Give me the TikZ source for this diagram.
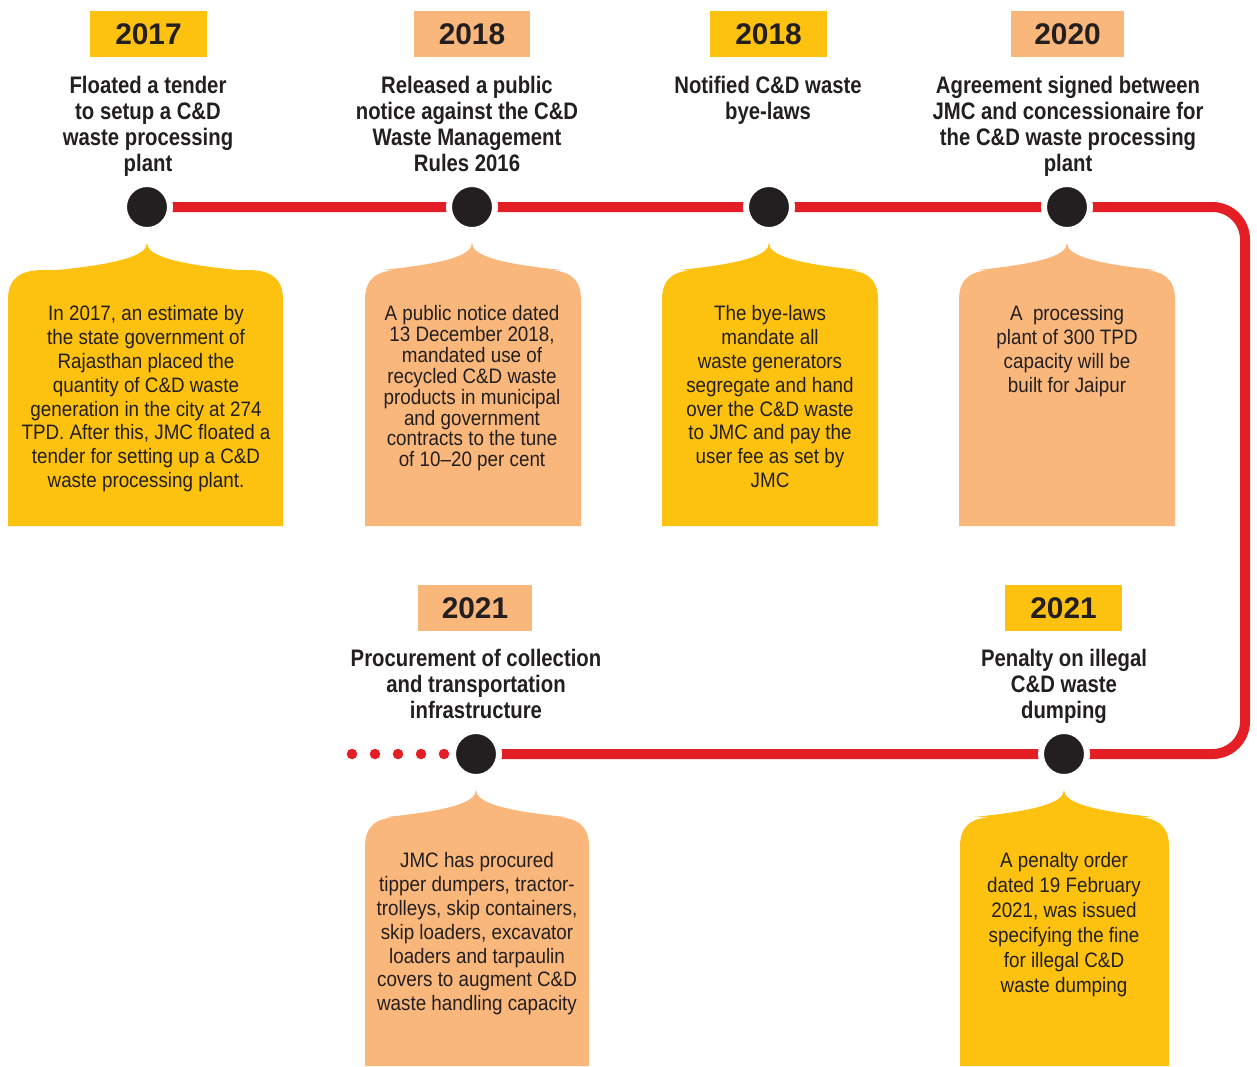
\documentclass[tikz,border=0pt]{standalone}
\usepackage{fontspec}
\newfontfamily\bodyfont[FakeStretch=0.9]{Liberation Sans}
\newfontfamily\titlefont[FakeStretch=0.85]{Liberation Sans Bold}
\newfontfamily\yearfont{Liberation Sans Bold}
\definecolor{cyellow}{HTML}{FDC210}
\definecolor{cpeach}{HTML}{F9B77B}
\definecolor{cred}{HTML}{E31E24}
\definecolor{cdark}{HTML}{231F20}
\tikzset{
  yearbox/.style={fill=#1, minimum width=2.34cm, minimum height=0.92cm, inner sep=0pt,
     font=\yearfont\fontsize{17}{17}\selectfont, text=cdark},
  titletext/.style={anchor=north, inner sep=0pt, align=center, text=cdark,
     font=\titlefont\fontsize{13.6}{14.7}\selectfont},
  bodytext/.style={anchor=north, inner sep=0pt, align=center, text=cdark,
     font=\bodyfont\fontsize{11.9}{13.6}\selectfont},
  dot/.style={circle, fill=cdark, draw=white, line width=0.12cm, minimum size=0.92cm, inner sep=0pt},
  redline/.style={draw=cred, line width=0.2cm},
  smalldot/.style={fill=cred}
}
\newcommand\callout[6]{%
  \fill[#6] (#1,#4) -- (#1,{#3+30}) .. controls (#1,{#3+8}) and ({#1+12},#3) .. ({#1+36},#3)
    -- ({#5-90},#3) .. controls ({#5-30},{#3-6}) and (#5,{#3-14}) .. (#5,{#3-27})
    .. controls (#5,{#3-14}) and ({#5+30},{#3-6}) .. ({#5+90},#3)
    -- ({#2-36},#3) .. controls ({#2-12},#3) and (#2,{#3+8}) .. (#2,{#3+30}) -- (#2,#4) -- cycle;}
\begin{document}
\begin{tikzpicture}[x=0.02cm,y=-0.02cm]
\useasboundingbox (0,0) rectangle (1257,1066);

% callouts
\callout{8}{283}{270}{526}{147}{cyellow}
\callout{365}{581}{270}{526}{472}{cpeach}
\callout{662}{878}{270}{526}{769}{cyellow}
\callout{959}{1175}{270}{526}{1067}{cpeach}
\callout{365}{589}{817}{1066}{476}{cpeach}
\callout{960}{1169}{817}{1066}{1064}{cyellow}

% dot coordinates and line
\coordinate (p1) at (147,207);
\coordinate (p2) at (472,207);
\coordinate (p3) at (769,207);
\coordinate (p4) at (1067,207);
\coordinate (p6) at (1064,754);
\coordinate (p5) at (476,754);
\coordinate (cTR) at (1245,207);
\coordinate (cBR) at (1245,754);
\draw[redline, rounded corners=0.65cm] (p1) -- (cTR) -- (cBR) -- (p5);

\node[dot] (d1) at (p1) {};
\node[dot] (d2) at (p2) {};
\node[dot] (d3) at (p3) {};
\node[dot] (d4) at (p4) {};
\node[dot] (d5) at (p5) {};
\node[dot] (d6) at (p6) {};

\foreach \xx in {352,375,398,421,444} \fill[smalldot] (\xx,754) circle (0.105cm);

% years
\node[yearbox=cyellow] (y1) at (148.5,34) {2017};
\node[yearbox=cpeach] (y2) at (472,34) {2018};
\node[yearbox=cyellow] (y3) at (768.5,34) {2018};
\node[yearbox=cpeach, minimum width=2.26cm] (y4) at (1067.5,34) {2020};
\node[yearbox=cpeach, minimum width=2.28cm] (y5) at (475,608) {2021};
\node[yearbox=cyellow] (y6) at (1063.5,608) {2021};

% titles
\node[titletext] (t1) at (148,76) {Floated a tender\\to setup a C\&D\\waste processing\\plant};
\node[titletext] (t2) at (467,76) {Released a public\\notice against the C\&D\\Waste Management\\Rules 2016};
\node[titletext] (t3) at (768,76) {Notified C\&D waste\\bye-laws};
\node[titletext] (t4) at (1068,76) {Agreement signed between\\JMC and concessionaire for\\the C\&D waste processing\\plant};
\node[titletext] (t5) at (476,649) {Procurement of collection\\and transportation\\infrastructure};
\node[titletext] (t6) at (1064,649) {Penalty on illegal\\C\&D waste\\dumping};

% body texts
\node[bodytext] (b1) at (146,305) {In 2017, an estimate by\\the state government of\\Rajasthan placed the\\quantity of C\&D waste\\generation in the city at 274\\TPD. After this, JMC floated a\\tender for setting up a C\&D\\waste processing plant.};
\node[bodytext, font=\bodyfont\fontsize{11.9}{11.9}\selectfont] (b2) at (472,305) {A public notice dated\\13 December 2018,\\mandated use of\\recycled C\&D waste\\products in municipal\\and government\\contracts to the tune\\of 10–20 per cent};
\node[bodytext] (b3) at (770,305) {The bye-laws\\mandate all\\waste generators\\segregate and hand\\over the C\&D waste\\to JMC and pay the\\user fee as set by\\JMC};
\node[bodytext] (b4) at (1067,305) {A\ \ processing\\plant of 300 TPD\\capacity will be\\built for Jaipur};
\node[bodytext] (b5) at (477,852) {JMC has procured\\tipper dumpers, tractor-\\trolleys, skip containers,\\skip loaders, excavator\\loaders and tarpaulin\\covers to augment C\&D\\waste handling capacity};
\node[bodytext, font=\bodyfont\fontsize{11.9}{14.2}\selectfont] (b6) at (1064,852) {A penalty order\\dated 19 February\\2021, was issued\\specifying the fine\\for illegal C\&D\\waste dumping};
\end{tikzpicture}
\end{document}
